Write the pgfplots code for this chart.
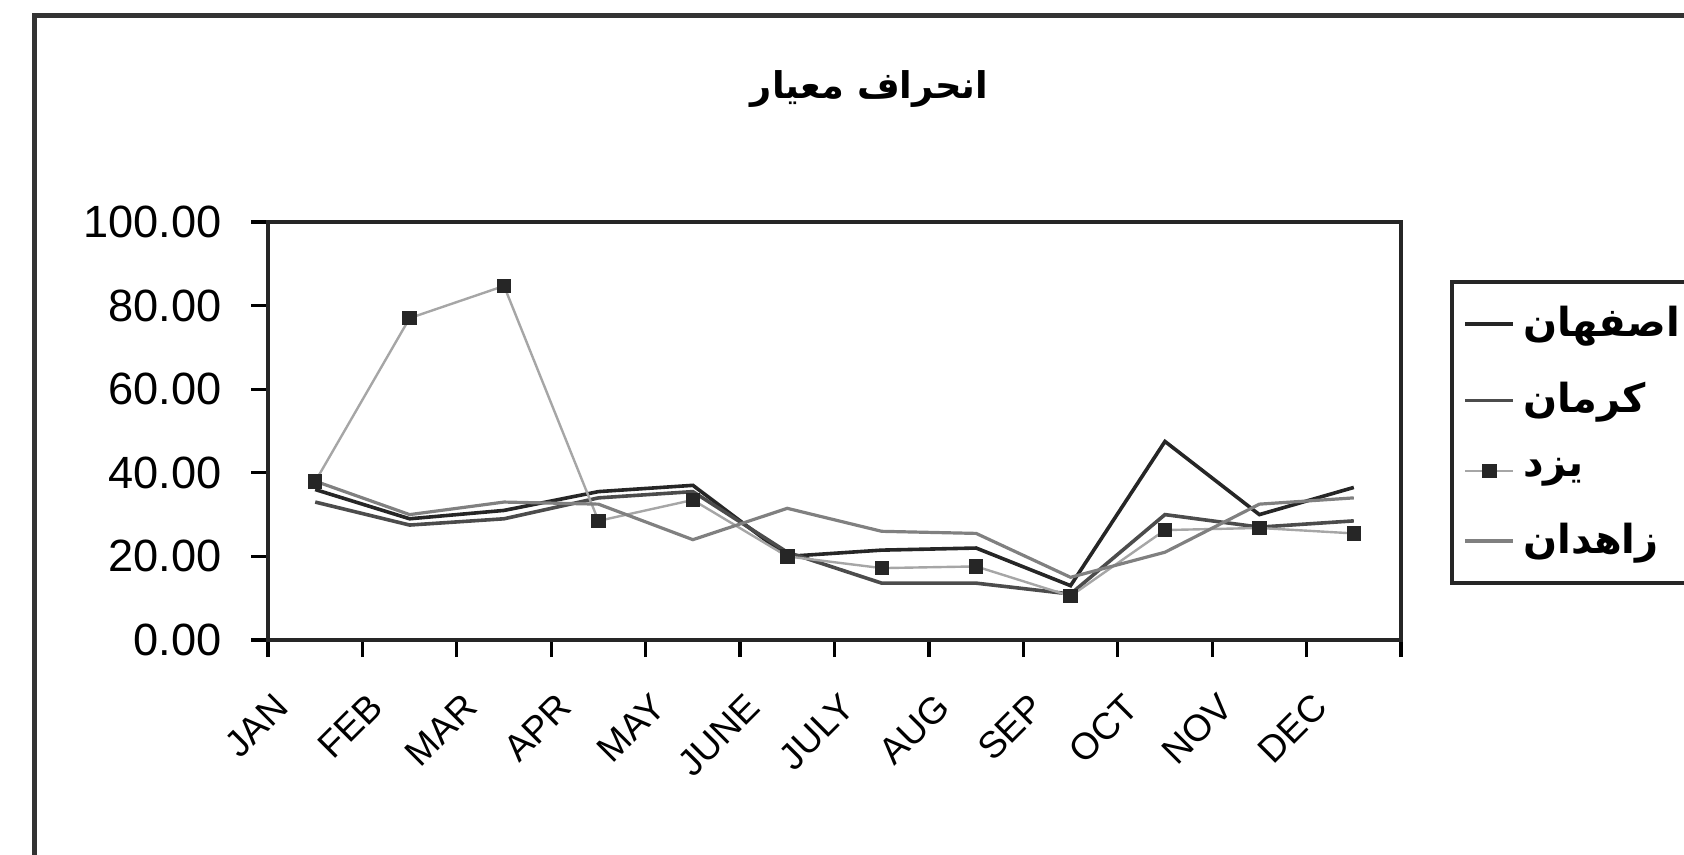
\documentclass[border=0pt]{standalone}
\usepackage{fontspec}
\setmainfont{Liberation Sans}
\newfontfamily\arabicfont[Script=Arabic]{DejaVu Sans}
\TeXXeTstate=1
\usepackage{pgfplots}
\usepackage{pgfplotstable}
\pgfplotsset{compat=1.18}

% monthly standard deviation, one column per city
\pgfplotstableread{
x  isf   ker   yazd  zah
0  36    33    37.9  38
1  29    27.5  77    30
2  31    29    84.7  33
3  35.5  34    28.5  32.5
4  37    35.5  33.5  24
5  20    21    20    31.5
6  21.5  13.6  17.2  26
7  22    13.6  17.6  25.5
8  13    11    10.5  15
9  47.5  30    26.3  21
10 30    27    26.8  32.5
11 36.5  28.5  25.5  34
}\sdtable

\begin{document}
\begin{tikzpicture}
\useasboundingbox (0,0) rectangle (421bp,213.75bp);
% chart area frame (cut off on the right)
\draw[line width=1.25bp, black!80] (8.5bp,-2bp) -- (8.5bp,209.75bp) -- (430bp,209.75bp);
\begin{axis}[
    at={(67bp,53.75bp)}, anchor=south west,
    scale only axis,
    width=283.25bp, height=104.5bp,
    xmin=-0.5, xmax=11.5,
    ymin=0, ymax=100,
    ytick={0,20,...,100},
    xtick={-0.5,0.5,...,11.5},
    xticklabels={},
    extra x ticks={0,...,11},
    extra x tick labels={JAN,FEB,MAR,APR,MAY,JUNE,JULY,AUG,SEP,OCT,NOV,DEC},
    extra x tick style={major tick length=0pt,
        tick label style={font=\fontsize{9.3bp}{11bp}\selectfont,
            rotate=45, anchor=north east, xshift=-13.2bp, yshift=2bp}},
    xtick pos=bottom, ytick pos=left,
    tick align=outside,
    major tick length=4.25bp,
    tick style={black, line width=0.8bp},
    axis line style={black!85, line width=1bp},
    /pgf/number format/assume math mode=true,
    yticklabel style={font=\fontsize{11.3bp}{13bp}\selectfont, xshift=-3.8bp,
        /pgf/number format/.cd, fixed, fixed zerofill, precision=2},
    title={\arabicfont\bfseries\fontsize{9.2bp}{11bp}\selectfont\beginR انحراف معیار\endR},
    title style={at={(0.531,1.26)}, anchor=center},
    legend style={at={(1.043,0.861)}, anchor=north west,
        draw=black!85, line width=1bp, inner ysep=4bp,
        row sep=6bp,
        font=\arabicfont\bfseries\fontsize{10bp}{12bp}\selectfont},
    legend cell align=left,
    legend image code/.code={\draw[mark repeat=2,mark phase=2,#1]
        plot coordinates {(0bp,0bp) (6bp,0bp) (12bp,0bp)};},
]
\addplot[black!85, line width=0.9bp] table[x=x, y=isf] {\sdtable};
\addlegendentry{\makebox[60bp][l]{\beginR اصفهان\endR}}
\addplot[black!70, line width=0.9bp] table[x=x, y=ker] {\sdtable};
\addlegendentry{\makebox[60bp][l]{\beginR کرمان\endR}}
\addplot[black!35, line width=0.6bp, mark=square*, mark size=1.5bp,
    mark options={fill=black!85, draw=black!85}] table[x=x, y=yazd] {\sdtable};
\addlegendentry{\makebox[60bp][l]{\beginR یزد\endR}}
\addplot[black!50, line width=0.8bp] table[x=x, y=zah] {\sdtable};
\addlegendentry{\makebox[60bp][l]{\beginR زاهدان\endR}}
\end{axis}
\end{tikzpicture}
\end{document}
